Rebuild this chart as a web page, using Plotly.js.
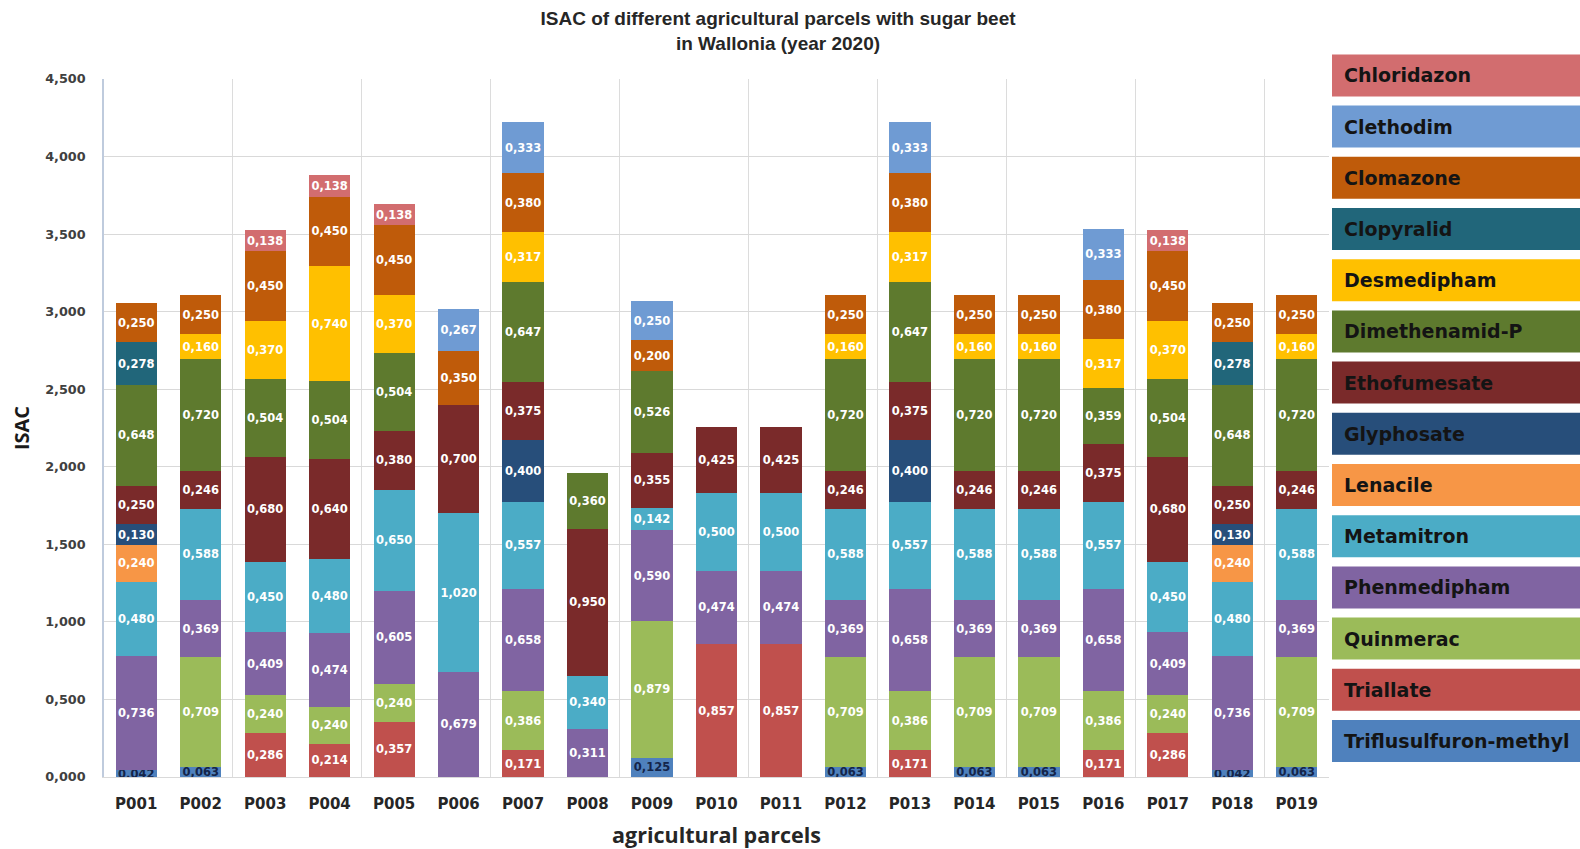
<!DOCTYPE html>
<html>
<head>
<meta charset="utf-8">
<script src="https://cdn.plot.ly/plotly-3.0.1.min.js"></script>
<style>
  html, body { margin: 0; padding: 0; background: #ffffff; }
  #chart { width: 1580px; height: 849px; }
</style>
</head>
<body>
<div id="chart"></div>
<script>
// Agricultural parcels (x categories)
const parcels = ['P001','P002','P003','P004','P005','P006','P007','P008','P009','P010',
                 'P011','P012','P013','P014','P015','P016','P017','P018','P019'];

// ISAC per active substance and parcel (null = substance not applied)
const triflusulfuron = [0.042,0.063,null,null,null,null,null,null,0.125,null,null,0.063,null,0.063,0.063,null,null,0.042,0.063];
const triallate      = [null,null,0.286,0.214,0.357,null,0.171,null,null,0.857,0.857,null,0.171,null,null,0.171,0.286,null,null];
const quinmerac      = [null,0.709,0.240,0.240,0.240,null,0.386,null,0.879,null,null,0.709,0.386,0.709,0.709,0.386,0.240,null,0.709];
const phenmedipham   = [0.736,0.369,0.409,0.474,0.605,0.679,0.658,0.311,0.590,0.474,0.474,0.369,0.658,0.369,0.369,0.658,0.409,0.736,0.369];
const metamitron     = [0.480,0.588,0.450,0.480,0.650,1.020,0.557,0.340,0.142,0.500,0.500,0.588,0.557,0.588,0.588,0.557,0.450,0.480,0.588];
const lenacile       = [0.240,null,null,null,null,null,null,null,null,null,null,null,null,null,null,null,null,0.240,null];
const glyphosate     = [0.130,null,null,null,null,null,0.400,null,null,null,null,null,0.400,null,null,null,null,0.130,null];
const ethofumesate   = [0.250,0.246,0.680,0.640,0.380,0.700,0.375,0.950,0.355,0.425,0.425,0.246,0.375,0.246,0.246,0.375,0.680,0.250,0.246];
const dimethenamid   = [0.648,0.720,0.504,0.504,0.504,null,0.647,0.360,0.526,null,null,0.720,0.647,0.720,0.720,0.359,0.504,0.648,0.720];
const desmedipham    = [null,0.160,0.370,0.740,0.370,null,0.317,null,null,null,null,0.160,0.317,0.160,0.160,0.317,0.370,null,0.160];
const clopyralid     = [0.278,null,null,null,null,null,null,null,null,null,null,null,null,null,null,null,null,0.278,null];
const clomazone      = [0.250,0.250,0.450,0.450,0.450,0.350,0.380,null,0.200,null,null,0.250,0.380,0.250,0.250,0.380,0.450,0.250,0.250];
const clethodim      = [null,null,null,null,null,0.267,0.333,null,0.250,null,null,null,0.333,null,null,0.333,null,null,null];
const chloridazon    = [null,null,0.138,0.138,0.138,null,null,null,null,null,null,null,null,null,null,null,0.138,null,null];

// Substance names, in stacking order (bottom to top)
const substances = ['Triflusulfuron-methyl','Triallate','Quinmerac','Phenmedipham','Metamitron','Lenacile',
                    'Glyphosate','Ethofumesate','Dimethenamid-P','Desmedipham','Clopyralid','Clomazone',
                    'Clethodim','Chloridazon'];
const seriesValues = [triflusulfuron, triallate, quinmerac, phenmedipham, metamitron, lenacile,
                      glyphosate, ethofumesate, dimethenamid, desmedipham, clopyralid, clomazone,
                      clethodim, chloridazon];
const colors = ['#4F81BD','#C0504D','#9BBB59','#8064A2','#4BACC6','#F79646',
                '#274E7A','#7A2A2A','#5E7A2E','#FFC000','#21667A','#BF5B0A',
                '#6F9BD3','#D26D6F'];

const yTicks = [0, 0.5, 1, 1.5, 2, 2.5, 3, 3.5, 4, 4.5];

const labelFont = 'DejaVu Sans, Verdana, sans-serif';
const xIdx = parcels.map((_, i) => i);

const traces = substances.map((name, k) => ({
  type: 'bar',
  name: name,
  x: xIdx,
  y: seriesValues[k],
  width: 0.64,
  marker: { color: colors[k], line: { width: 0 } },
  texttemplate: '%{y:.3f}',
  textposition: 'inside',
  insidetextanchor: 'middle',
  textangle: 0,
  constraintext: 'none',
  textfont: {
    family: labelFont, size: 11.5, weight: 'bold',
    color: k === 0 ? '#14254A' : '#FFFFFF'
  },
  hovertemplate: '%{customdata}<br>' + name + ': %{y:.3f}<extra></extra>',
  customdata: parcels,
  showlegend: false
}));

// Plot area geometry (pixels)
const W = 1580, H = 849;
const plotL = 104, plotR = 1329, plotT = 79, plotB = 777;
const px2x = p => (p - plotL) / (plotR - plotL);
const px2y = p => (plotB - p) / (plotB - plotT);

// Boxed legend at the right, listed top of stack first
const shapes = [];
const annotations = [];
const legendOrder = substances.map((s, k) => k).reverse();
legendOrder.forEach((k, i) => {
  const top = 54.4 + 51.2 * i;
  const bot = top + 42;
  shapes.push({
    type: 'rect', xref: 'paper', yref: 'paper',
    x0: px2x(1332), x1: px2x(1582), y0: px2y(bot), y1: px2y(top),
    fillcolor: colors[k], line: { width: 0 }, layer: 'above'
  });
  annotations.push({
    xref: 'paper', yref: 'paper', x: px2x(1342), y: px2y((top + bot) / 2),
    xanchor: 'left', yanchor: 'middle', showarrow: false,
    text: substances[k],
    font: { family: labelFont, size: 19, weight: 'bold', color: '#141414' }
  });
});

// Vertical grid lines every two parcels, on category boundaries
const boundaries = [];
for (let b = 1.5; b < parcels.length - 0.5; b += 2) boundaries.push(b);

const layout = {
  width: W, height: H,
  margin: { l: plotL, r: W - plotR, t: plotT, b: H - plotB, pad: 0 },
  paper_bgcolor: '#FFFFFF',
  plot_bgcolor: '#FFFFFF',
  separators: ',.',
  barmode: 'stack',
  uniformtext: { mode: 'show', minsize: 11.5 },
  title: {
    text: 'ISAC of different agricultural parcels with sugar beet<br>in Wallonia (year 2020)',
    font: { family: 'Liberation Sans Narrow, Liberation Sans, Arial, sans-serif', size: 19, weight: 'bold', color: '#262626' },
    xref: 'container', x: 778 / W, xanchor: 'center',
    yref: 'container', y: 1 - 25 / H, yanchor: 'middle'
  },
  xaxis: {
    range: [-0.5, parcels.length - 0.5],
    tickmode: 'array', tickvals: xIdx, ticktext: parcels,
    showgrid: false, zeroline: false,
    showline: true, linecolor: '#D9D9D9', linewidth: 1,
    ticks: '', ticklabelstandoff: 13,
    tickfont: { family: labelFont, size: 15, weight: 'bold', color: '#262626' },
    minor: { tickmode: 'array', tickvals: boundaries, showgrid: true, gridcolor: '#DCDCDC', gridwidth: 1, ticks: '' },
    title: {
      text: 'agricultural parcels',
      font: { family: 'Open Sans, sans-serif', size: 21.5, weight: 'bold', color: '#262626' },
      standoff: 20
    },
    automargin: false,
    fixedrange: true
  },
  yaxis: {
    range: [0, 4.5],
    tickmode: 'array', tickvals: yTicks, tickformat: '.3f',
    showgrid: true, gridcolor: '#D9D9D9', gridwidth: 1,
    zeroline: false,
    showline: true, linecolor: '#BFCBDD', linewidth: 1.5,
    ticks: '', ticklabelstandoff: 14,
    tickfont: { family: labelFont, size: 12.8, weight: 'bold', color: '#404040' },
    title: {
      text: 'ISAC',
      font: { family: 'Open Sans, sans-serif', size: 20, weight: 'bold', color: '#1A1A1A' },
      standoff: 10
    },
    automargin: false,
    fixedrange: true
  },
  shapes: shapes,
  annotations: annotations
};

Plotly.newPlot('chart', traces, layout, { displayModeBar: false, staticPlot: false });
</script>
</body>
</html>
